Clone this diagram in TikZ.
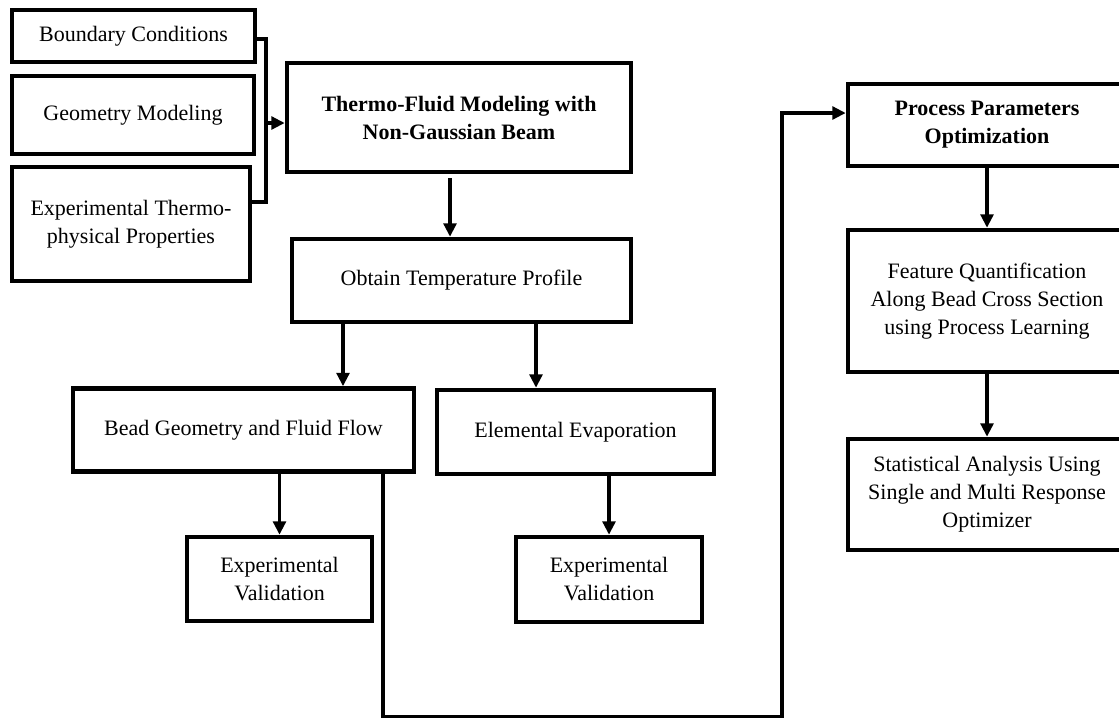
\documentclass[tikz,border=0pt]{standalone}
\usepackage{fontspec}
\setmainfont{Liberation Serif}
\usetikzlibrary{arrows.meta}

\tikzset{
  blk/.style={draw, line width=3.4pt, inner sep=0pt, align=center, font=\fontsize{16.5}{21}\selectfont},
  sz/.style 2 args={minimum width=#1*0.75pt, minimum height=#2*0.75pt},
  ln/.style={line width=2.8pt},
  arr/.style={line width=2.8pt, -{Triangle[length=10pt,width=9.5pt]}},
}

\begin{document}
\begin{tikzpicture}[x=0.75pt,y=0.75pt,yscale=-1,xscale=1]
\useasboundingbox (0,0) rectangle (1119,719);
\clip (0,0) rectangle (1119,719);

% Input blocks
\node[blk, sz={243}{52}] (bc) at (133.5,36) {Boundary Conditions};
\node[blk, sz={242}{78}] (gm) at (133,115) {Geometry Modeling};
\node[blk, sz={238}{114}] (etp) at (131,224) {Experimental Thermo-\\physical Properties};

% Main column
\node[blk, sz={344}{109}, font=\fontsize{16.5}{21}\selectfont\bfseries] (tf) at (459,117.5) {Thermo-Fluid Modeling with\\Non-Gaussian Beam};
\node[blk, sz={339}{83}] (ot) at (461.5,280.5) {Obtain Temperature Profile};
\node[blk, sz={341}{83}] (bg) at (243.5,430) {Bead Geometry and Fluid Flow};
\node[blk, sz={277}{84}] (ee) at (575.5,432) {Elemental Evaporation};
\node[blk, sz={185}{84}] (ev1) at (279.5,579) {Experimental\\Validation};
\node[blk, sz={186}{85}] (ev2) at (609,579.5) {Experimental\\Validation};

% Right column
\node[blk, sz={278}{82}, font=\fontsize{16.5}{21}\selectfont\bfseries] (ppo) at (987,125) {Process Parameters\\Optimization};
\node[blk, sz={278}{142}] (fq) at (987,301) {Feature Quantification\\Along Bead Cross Section\\using Process Learning};
\node[blk, sz={278}{111}] (sa) at (987,494.5) {Statistical Analysis Using\\Single and Multi Response\\Optimizer};

% Bracket joining the inputs
\coordinate (br1) at (266,39);
\coordinate (br2) at (266,202);
\coordinate (jn) at (266,123);
\draw[ln] (bc.east |- br1) -- (br1) -- (br2) -- (br2 -| etp.east);
\draw[arr] (jn) -- (jn -| tf.west);

% Flow arrows
\coordinate (c1) at (450,0);
\coordinate (c2) at (343,0);
\coordinate (c3) at (536,0);
\draw[arr, shorten <=3pt] (c1 |- tf.south) -- (c1 |- ot.north);
\draw[arr] (c2 |- ot.south) -- (c2 |- bg.north);
\draw[arr] (c3 |- ot.south) -- (c3 |- ee.north);
\draw[arr] (ev1.north |- bg.south) -- (ev1.north);
\draw[arr] (ev2.north |- ee.south) -- (ev2.north);
\draw[arr] (ppo.south) -- (fq.north);
\draw[arr] (fq.south) -- (sa.north);

% Return line to optimization
\coordinate (r1) at (383,716.5);
\coordinate (r2) at (782,716.5);
\coordinate (r3) at (782,113);
\draw[arr] (r1 |- bg.south) -- (r1) -- (r2) -- (r3) -- (r3 -| ppo.west);

\end{tikzpicture}
\end{document}
